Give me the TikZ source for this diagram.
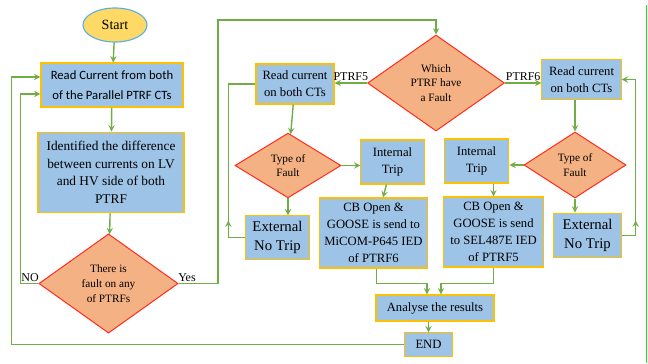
\documentclass[tikz,border=0pt]{standalone}
\usepackage{fontspec}
\setmainfont{Liberation Serif}
\newfontfamily\calfont{Carlito}
\newfontfamily\timesfont{Liberation Serif}
\usetikzlibrary{shapes.geometric}

\definecolor{boxfill}{HTML}{9DC3E6}
\definecolor{boxline}{HTML}{FFC000}
\definecolor{decfill}{HTML}{F4B183}
\definecolor{decline}{HTML}{FF2A1A}
\definecolor{wire}{HTML}{70AD47}
\definecolor{startfill}{HTML}{FFD966}
\definecolor{startline}{HTML}{5BAFE0}
\definecolor{edgegreen}{HTML}{22DD22}

\tikzset{
	procbox/.style={shape=rectangle, draw=boxline, fill=boxfill, line width=0.8pt, align=center, inner sep=1pt, font=\timesfont\fontsize{9}{12}\selectfont},
	decbox/.style={shape=diamond, draw=decline, fill=decfill, line width=0.7pt, align=center, inner sep=0pt, font=\timesfont\fontsize{8}{10.5}\selectfont},
	wireline/.style={draw=wire, line width=1pt, -stealth},
	plainwire/.style={draw=wire, line width=1pt},
	wirelabel/.style={font=\timesfont\fontsize{8.5}{10}\selectfont, inner sep=1pt},
}

\begin{document}
\begin{tikzpicture}[x=0.025cm, y=-0.025cm]
	\useasboundingbox (0,0) rectangle (648,363);
	% Nodes:
	\node[ellipse, draw=startline, fill=startfill, line width=0.8pt, minimum width=1.6cm, minimum height=0.85cm, font=\timesfont\fontsize{10}{12}\selectfont] (start) at (115, 25){Start};
	\node[procbox, minimum width=3.55cm, minimum height=1.1cm, font=\calfont\fontsize{9}{14}\selectfont] (read1) at (112, 85){Read Current from both\\of the Parallel PTRF CTs};
	\node[procbox, minimum width=3.65cm, minimum height=2.02cm, font=\timesfont\fontsize{9.5}{12.5}\selectfont] (ident) at (111, 172.5){Identified the difference\\between currents on LV\\and HV side of both\\PTRF};
	\node[decbox, minimum width=3.48cm, minimum height=2.48cm] (fault) at (108.5, 283.5){There is\\fault on any\\of PTRFs};
	\node[decbox, minimum width=3.42cm, minimum height=2.4cm] (which) at (436, 83){Which\\PTRF have\\a Fault};
	\node[procbox, minimum width=1.95cm, minimum height=1cm] (readL) at (295, 84){Read current\\on both CTs};
	\node[procbox, minimum width=1.98cm, minimum height=0.98cm] (readR) at (581.5, 79.5){Read current\\on both CTs};
	\node[decbox, minimum width=2.65cm, minimum height=1.62cm] (typeL) at (288, 165.5){Type of\\Fault};
	\node[decbox, minimum width=2.55cm, minimum height=1.65cm] (typeR) at (575, 165){Type of\\Fault};
	\node[procbox, minimum width=1.58cm, minimum height=1.1cm] (intL) at (392.5, 162){Internal\\Trip};
	\node[procbox, minimum width=1.62cm, minimum height=1.1cm] (intR) at (476.5, 161){Internal\\Trip};
	\node[procbox, minimum width=1.58cm, minimum height=1.08cm, font=\timesfont\fontsize{10.5}{13.5}\selectfont] (extL) at (277.5, 237.5){External\\No Trip};
	\node[procbox, minimum width=1.68cm, minimum height=1.12cm, font=\timesfont\fontsize{10.5}{13.5}\selectfont] (extR) at (587.5, 235.5){External\\No Trip};
	\node[procbox, minimum width=2.68cm, minimum height=1.75cm] (cbL) at (373.5, 233){CB Open \&\\GOOSE is send to\\MiCOM-P645 IED\\of PTRF6};
	\node[procbox, minimum width=2.48cm, minimum height=1.75cm] (cbR) at (493.5, 232){CB Open \&\\GOOSE is send\\to SEL487E IED\\of PTRF5};
	\node[procbox, minimum width=2.95cm, minimum height=0.65cm] (analyse) at (435, 308){Analyse the results};
	\node[procbox, minimum width=1.22cm, minimum height=0.58cm] (theend) at (428.5, 344.5){END};
	% Wires:
	\draw[wireline] (start) -- (read1);
	\draw[wireline] (read1) -- (ident);
	\draw[wireline] (ident) -- (fault);
	\draw[wireline] (fault.west) -- ++(-18, 0) |- ([yshift=-0.225cm]read1.west);
	\draw[wireline] (theend.west) -- ++(-392, 0) |- ([yshift=0.2cm]read1.west);
	\draw[wireline] (fault.east) -| (218, 20) -| (which.north);
	\node[wirelabel, anchor=south east] (nolabel) at ([xshift=0.05cm]fault.west){NO};
	\node[wirelabel, anchor=south west] (yeslabel) at ([xshift=-0.05cm]fault.east){Yes};
	\draw[wireline] (which.west) -- (which.west -| readL.east) node[wirelabel, midway, above] (ptrfA){PTRF5};
	\draw[wireline] (which.east) -- (which.east -| readR.west) node[wirelabel, midway, above] (ptrfB){PTRF6};
	% left branch
	\draw[wireline] (readL) -- (typeL);
	\draw[wireline] (typeL.east) -- (intL.west |- typeL.east);
	\draw[wireline] (typeL) -- (extL.north -| typeL.south);
	\draw[wireline] (extL.west) -- ++(-17, 0) -- ++(0, -17);
	\draw[plainwire] ([xshift=-0.425cm]extL.west) |- (readL.west);
	\draw[wireline] (intL) -- (cbL);
	\draw[wireline] ([xshift=0.08cm]cbL.south) -- ++(0, 15) -| ([xshift=-0.2cm]analyse.north);
	% right branch
	\draw[wireline] (readR.south -| typeR.north) -- (typeR.north);
	\draw[wireline] (typeR.west) -- (intR.east |- typeR.west);
	\draw[wireline] (typeR.south) -- (typeR.south |- extR.north);
	\draw[wireline] (extR.east) -- ++(14, 0) -- ++(0, -15);
	\draw[wireline] ([xshift=0.35cm]extR.east) |- (readR.east);
	\draw[wireline] (intR.south -| cbR.north) -- (cbR.north);
	\draw[wireline] (cbR.south) -- ++(0, 16) -| ([xshift=0.15cm]analyse.north);
	\draw[wireline] (analyse.south -| theend.north) -- (theend.north);
	% right edge
	\draw[edgegreen, line width=0.8pt] (646.5, 5) -- (646.5, 363);
\end{tikzpicture}
\end{document}
